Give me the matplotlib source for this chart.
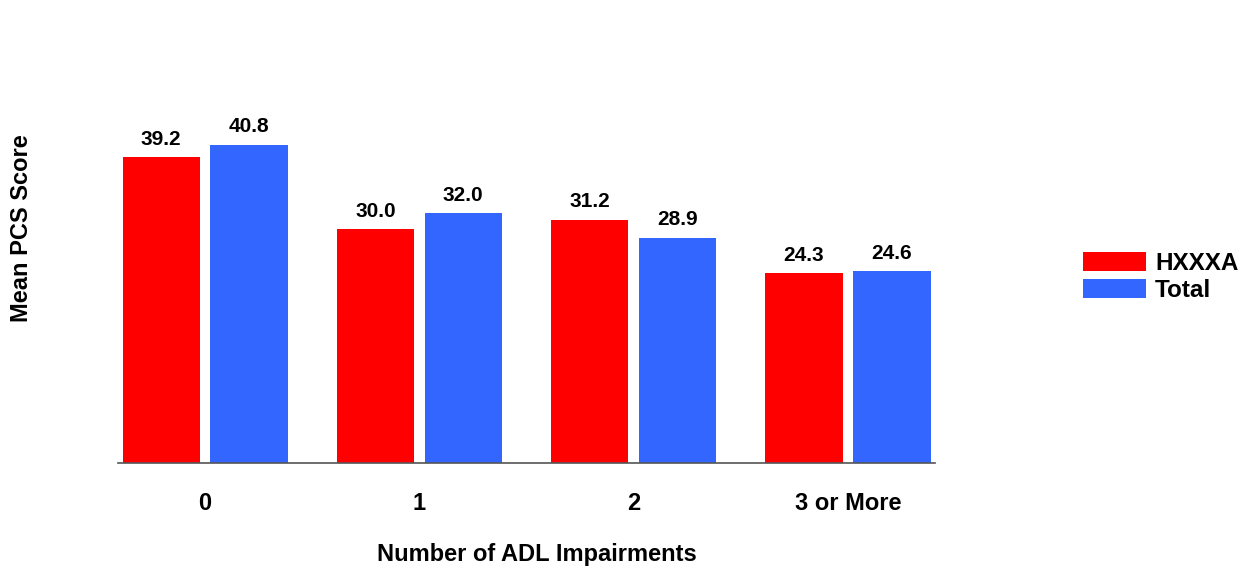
import matplotlib
matplotlib.use("Agg")
import matplotlib.pyplot as plt
import numpy as np

plt.rcParams['font.family'] = ['Liberation Sans', 'DejaVu Sans']
plt.rcParams['font.weight'] = 'bold'

categories = ["0", "1", "2", "3 or More"]
hxxxa = [39.2, 30.0, 31.2, 24.3]
total = [40.8, 32.0, 28.9, 24.6]
series_names = ["HXXXA", "Total"]

red = "#FF0000"
blue = "#3366FF"

fig = plt.figure(figsize=(12.49, 5.68), dpi=100)
ax = fig.add_axes([0.0945, 0.1849, 0.6541, 0.6866])

x = np.arange(len(categories))
w = 0.36
off = 0.205
b1 = ax.bar(x - off, hxxxa, w, color=red, label=series_names[0])
b2 = ax.bar(x + off, total, w, color=blue, label=series_names[1])

for bars, vals in [(b1, hxxxa), (b2, total)]:
    for r, v in zip(bars, vals):
        ax.annotate("%.1f" % v, (r.get_x() + r.get_width() / 2, v),
                    xytext=(0, 6), textcoords="offset points",
                    ha="center", va="bottom", fontsize=15, fontweight="bold")

ax.set_xlim(-0.406, 3.406)
ax.set_ylim(0, 50)
ax.set_xticks(x)
ax.set_xticklabels(categories, fontsize=17, fontweight="bold")
ax.tick_params(axis="x", length=0, pad=21)
ax.set_yticks([])
for s in ["top", "right", "left"]:
    ax.spines[s].set_visible(False)
ax.spines["bottom"].set_color("#555555")
ax.spines["bottom"].set_linewidth(1.2)

fig.text(0.43, 0.024, "Number of ADL Impairments", ha="center", va="center",
         fontsize=17, fontweight="bold")
fig.text(0.017, 0.599, "Mean PCS Score", ha="center", va="center",
         rotation=90, fontsize=17, fontweight="bold")

fig.legend(handles=[b1, b2], loc="center left", bbox_to_anchor=(0.867, 0.512),
           frameon=False, fontsize=17.5, handlelength=2.6, handleheight=0.82,
           handletextpad=0.37, labelspacing=0.15, borderaxespad=0, borderpad=0)

fig.savefig("out.png", dpi=100)
